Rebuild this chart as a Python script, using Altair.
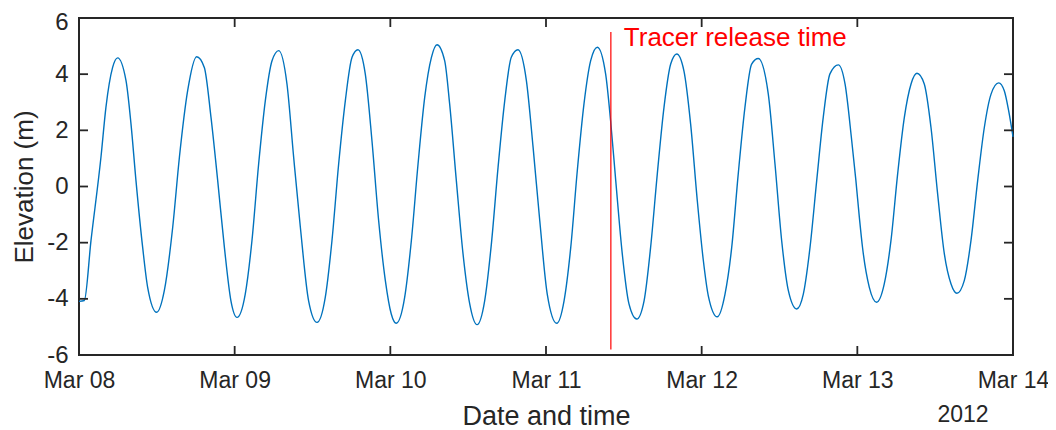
import altair as alt
import pandas as pd

# ---- data ----
# time offsets (days after 2012-03-08 00:00) and elevation (m)
day_offsets = [
    0.000, 0.034, 0.077, 0.141, 0.173, 0.216, 0.248, 0.302, 0.334, 0.366,
    0.409, 0.441, 0.499, 0.548, 0.602, 0.645, 0.698, 0.756, 0.805, 0.848,
    0.891, 0.934, 0.976, 1.015, 1.068, 1.111, 1.154, 1.197, 1.240, 1.283,
    1.336, 1.379, 1.422, 1.475, 1.529, 1.582, 1.625, 1.668, 1.711, 1.754,
    1.792, 1.839, 1.882, 1.925, 1.968, 2.006, 2.038, 2.092, 2.135, 2.178,
    2.221, 2.264, 2.300, 2.349, 2.381, 2.424, 2.467, 2.510, 2.557, 2.606,
    2.649, 2.692, 2.735, 2.777, 2.820, 2.874, 2.917, 2.960, 3.008, 3.069,
    3.116, 3.159, 3.201, 3.244, 3.287, 3.330, 3.383, 3.415, 3.448, 3.490,
    3.533, 3.583, 3.630, 3.672, 3.715, 3.758, 3.801, 3.840, 3.886, 3.929,
    3.972, 4.010, 4.043, 4.100, 4.150, 4.193, 4.235, 4.278, 4.321, 4.364,
    4.428, 4.471, 4.514, 4.557, 4.610, 4.653, 4.696, 4.739, 4.781, 4.824,
    4.878, 4.921, 4.964, 4.991, 5.013, 5.034, 5.077, 5.124, 5.173, 5.216,
    5.259, 5.302, 5.345, 5.383, 5.430, 5.473, 5.516, 5.559, 5.602, 5.640,
    5.687, 5.730, 5.773, 5.816, 5.859, 5.908, 5.944, 5.972, 6.000,
]
elevation = [
    -4.09, -4.06, -1.93, 1.04, 2.82, 4.24, 4.58, 3.77, 2.23, 0.21,
    -2.17, -3.59, -4.48, -3.71, -1.45, 1.04, 3.41, 4.62, 4.24, 2.46,
    0.21, -2.17, -4.07, -4.66, -3.83, -1.93, 0.80, 3.06, 4.48, 4.84,
    3.65, 1.04, -1.45, -4.07, -4.84, -3.95, -1.93, 0.80, 3.06, 4.60,
    4.87, 4.01, 1.63, -1.22, -3.35, -4.54, -4.87, -3.95, -1.93, 0.80,
    3.18, 4.60, 5.05, 4.48, 2.94, 0.21, -2.40, -4.18, -4.92, -4.07,
    -2.05, 0.68, 3.06, 4.60, 4.87, 3.77, 1.40, -1.22, -3.83, -4.87,
    -4.07, -2.17, 0.56, 2.94, 4.48, 4.96, 4.01, 2.34, 0.21, -2.40,
    -4.18, -4.72, -4.07, -2.17, 0.45, 2.82, 4.36, 4.72, 4.12, 2.23,
    -0.51, -2.60, -3.90, -4.64, -3.83, -2.17, 0.45, 2.82, 4.36, 4.56,
    3.29, 0.80, -1.93, -3.71, -4.36, -3.83, -2.17, 0.21, 2.46, 4.01,
    4.33, 3.65, 1.63, 0.20, -1.10, -2.20, -3.59, -4.12, -3.47, -1.93,
    0.45, 2.46, 3.65, 4.03, 3.65, 2.11, -0.27, -2.40, -3.47, -3.80,
    -3.35, -1.93, 0.21, 2.11, 3.29, 3.69, 3.41, 2.70, 1.77,
]

tick_days = [8, 9, 10, 11, 12, 13, 14]
tick_dates = ["2012-03-%02dT00:00:00" % d for d in tick_days]
y_ticks = [-6, -4, -2, 0, 2, 4, 6]

release_time = ["2012-03-11T10:00:00"]
release_low = [-5.8]
release_high = [5.5]
release_text_time = ["2012-03-11T12:00:00"]
release_text_y = [5.0]
release_text = ["Tracer release time"]

# ---- tables ----
start = pd.Timestamp("2012-03-08")
times = [(start + pd.Timedelta(days=d)).strftime("%Y-%m-%dT%H:%M:%S") for d in day_offsets]
df = pd.DataFrame({"time": times, "elev": elevation})
xt = pd.DataFrame({"time": tick_dates})
yt = pd.DataFrame({"elev": y_ticks})
rel = pd.DataFrame({"time": release_time, "elev": release_low, "elev2": release_high})
relt = pd.DataFrame({"time": release_text_time, "elev": release_text_y, "label": release_text})
yr = pd.DataFrame({"label": ["2012"]})

W, H = 934, 337
INK = "#262626"
FONT = "Liberation Sans"
TICK = 9

xscale = alt.Scale(domain=[alt.DateTime(year=2012, month=3, date=8),
                           alt.DateTime(year=2012, month=3, date=14)])
yscale = alt.Scale(domain=[-6, 6], nice=False, zero=False)

xaxis = alt.Axis(
    values=[alt.DateTime(year=2012, month=3, date=d) for d in tick_days],
    format="%b %d", title="Date and time", grid=False, domain=False,
    ticks=False, tickSize=0, labelPadding=14, labelFont=FONT, labelFontSize=23,
    labelColor=INK, labelFlush=False, labelOverlap=False, labelBound=False,
    titleFont=FONT, titleFontSize=27, titleFontWeight="normal", titleColor=INK,
    titleX=W / 2, titleY=69, titleAlign="center", titleBaseline="alphabetic",
)
yaxis = alt.Axis(
    values=y_ticks, labelExpr="'' + datum.value", title="Elevation (m)",
    grid=False, domain=False, ticks=False, tickSize=0, labelPadding=11,
    labelFont=FONT, labelFontSize=24, labelColor=INK,
    labelOffset={"condition": {"test": "datum.value == 6", "value": 4}, "value": 0},
    titleFont=FONT, titleFontSize=26, titleFontWeight="normal", titleColor=INK,
    titleX=-47, titleY=H / 2, titleAngle=270, titleAlign="center",
    titleBaseline="alphabetic",
)

X = alt.X("time:T", scale=xscale, axis=xaxis)
Y = alt.Y("elev:Q", scale=yscale, axis=yaxis)

line = alt.Chart(df).mark_line(color="#0072BD", strokeWidth=1.4, interpolate="monotone").encode(
    x=X, y=Y)

bottom_ticks = alt.Chart(xt).mark_rule(color=INK, strokeWidth=1.8).encode(
    x=X, y=alt.value(H), y2=alt.value(H - TICK))
top_ticks = alt.Chart(xt).mark_rule(color=INK, strokeWidth=1.8).encode(
    x=X, y=alt.value(0), y2=alt.value(TICK))
left_ticks = alt.Chart(yt).mark_rule(color=INK, strokeWidth=1.8).encode(
    y=Y, x=alt.value(0), x2=alt.value(TICK))
right_ticks = alt.Chart(yt).mark_rule(color=INK, strokeWidth=1.8).encode(
    y=Y, x=alt.value(W - TICK), x2=alt.value(W))

release_line = alt.Chart(rel).mark_rule(color="#FF0000", strokeWidth=1.2).encode(
    x=X, y=Y, y2="elev2:Q")
release_label = alt.Chart(relt).mark_text(
    color="#FF0000", font=FONT, fontSize=26, align="left", baseline="alphabetic"
).encode(x=X, y=Y, text="label:N")

year_label = alt.Chart(yr).mark_text(
    color=INK, font=FONT, fontSize=23, align="center", baseline="alphabetic"
).encode(x=alt.value(884), y=alt.value(404), text="label:N")

chart = alt.layer(
    line, release_line, release_label, bottom_ticks, top_ticks, left_ticks, right_ticks, year_label
).properties(
    width=W, height=H,
    autosize=alt.AutoSizeParams(type="none"),
    padding={"left": 71, "top": 10, "right": 35, "bottom": 75},
    background="white",
).configure_view(stroke=INK, strokeWidth=2)

chart.save("out.html", embed_options={"renderer": "svg", "actions": False})
